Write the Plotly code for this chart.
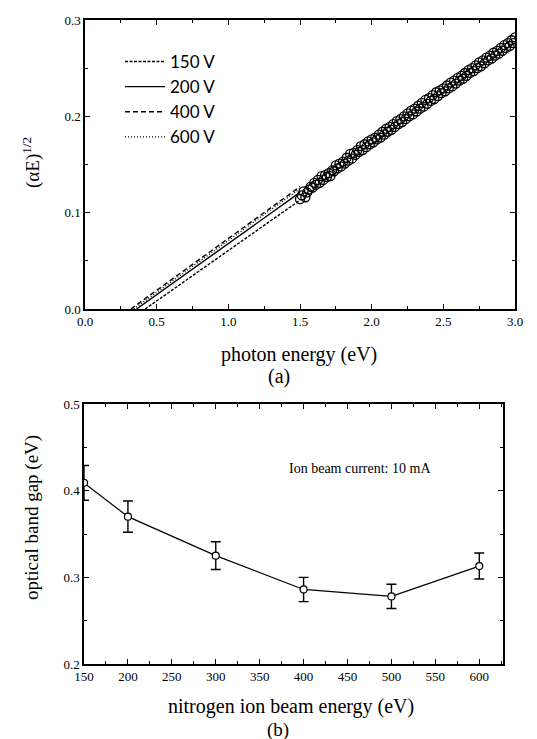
import plotly.graph_objects as go

# ---------- panel (a) data ----------
fit_labels = ["150 V", "200 V", "400 V", "600 V"]
fit_x_start = [0.42, 0.36, 0.32, 0.34]   # x-intercepts (eV)
fit_x_end = [1.50, 1.50, 1.50, 1.50]
fit_y_end = [0.113, 0.121, 0.127, 0.125]
fit_dash = ["3px,1.5px", "solid", "5px,3px", "1px,2px"]

data_a_x = [1.500, 1.525, 1.550, 1.575, 1.600, 1.625, 1.650, 1.675, 1.700, 1.725,
            1.750, 1.775, 1.800, 1.825, 1.850, 1.875, 1.900, 1.925, 1.950, 1.975,
            2.000, 2.025, 2.050, 2.075, 2.100, 2.125, 2.150, 2.175, 2.200, 2.225,
            2.250, 2.275, 2.300, 2.325, 2.350, 2.375, 2.400, 2.425, 2.450, 2.475,
            2.500, 2.525, 2.550, 2.575, 2.600, 2.625, 2.650, 2.675, 2.700, 2.725,
            2.750, 2.775, 2.800, 2.825, 2.850, 2.875, 2.900, 2.925, 2.950, 2.975, 3.000]
data_a_y = [0.114, 0.122, 0.121, 0.127, 0.131, 0.134, 0.138, 0.139, 0.141, 0.144,
            0.149, 0.151, 0.153, 0.157, 0.161, 0.162, 0.165, 0.169, 0.171, 0.174,
            0.176, 0.178, 0.181, 0.184, 0.187, 0.189, 0.192, 0.195, 0.197, 0.200,
            0.203, 0.206, 0.208, 0.211, 0.214, 0.217, 0.219, 0.222, 0.225, 0.227,
            0.229, 0.232, 0.235, 0.237, 0.240, 0.242, 0.245, 0.248, 0.250, 0.253,
            0.256, 0.258, 0.261, 0.263, 0.266, 0.268, 0.271, 0.274, 0.276, 0.279, 0.282]

data_b_x = [1.5125, 1.5375, 1.5625, 1.5875, 1.6125, 1.6375, 1.6625, 1.6875, 1.7125, 1.7375,
            1.7625, 1.7875, 1.8125, 1.8375, 1.8625, 1.8875, 1.9125, 1.9375, 1.9625, 1.9875,
            2.0125, 2.0375, 2.0625, 2.0875, 2.1125, 2.1375, 2.1625, 2.1875, 2.2125, 2.2375,
            2.2625, 2.2875, 2.3125, 2.3375, 2.3625, 2.3875, 2.4125, 2.4375, 2.4625, 2.4875,
            2.5125, 2.5375, 2.5625, 2.5875, 2.6125, 2.6375, 2.6625, 2.6875, 2.7125, 2.7375,
            2.7625, 2.7875, 2.8125, 2.8375, 2.8625, 2.8875, 2.9125, 2.9375, 2.9625, 2.9875]
data_b_y = [0.118, 0.116, 0.124, 0.126, 0.129, 0.131, 0.134, 0.137, 0.138, 0.143,
            0.146, 0.148, 0.151, 0.154, 0.156, 0.160, 0.163, 0.165, 0.168, 0.171,
            0.173, 0.176, 0.178, 0.181, 0.184, 0.186, 0.189, 0.192, 0.194, 0.197,
            0.200, 0.202, 0.205, 0.208, 0.210, 0.213, 0.216, 0.218, 0.221, 0.224,
            0.226, 0.229, 0.231, 0.234, 0.237, 0.239, 0.242, 0.245, 0.247, 0.250,
            0.252, 0.255, 0.258, 0.260, 0.263, 0.265, 0.268, 0.271, 0.273, 0.276]

# ---------- panel (b) data ----------
beam_energy = [150, 200, 300, 400, 500, 600]
band_gap = [0.409, 0.370, 0.325, 0.286, 0.278, 0.313]
band_gap_err = [0.020, 0.018, 0.016, 0.014, 0.014, 0.015]

W, H = 537, 739
SERIF = "Liberation Serif"
SANS = "Lato"

fig = go.Figure()

for i, lab in enumerate(fit_labels):
    fig.add_trace(go.Scatter(
        x=[fit_x_start[i], fit_x_end[i]], y=[0, fit_y_end[i]],
        mode="lines", name=lab,
        line=dict(color="black", width=1.4, dash=fit_dash[i]),
        xaxis="x", yaxis="y"))

for xs, ys in [(data_a_x, data_a_y), (data_b_x, data_b_y)]:
    fig.add_trace(go.Scatter(
        x=xs, y=ys, mode="markers", showlegend=False,
        marker=dict(symbol="circle-open", size=9, color="black", line=dict(width=1.3)),
        xaxis="x", yaxis="y"))

fig.add_trace(go.Scatter(
    x=beam_energy, y=band_gap, mode="lines+markers", showlegend=False,
    line=dict(color="black", width=1.2),
    marker=dict(symbol="circle", size=7, color="white", line=dict(color="black", width=1.2)),
    error_y=dict(type="data", array=band_gap_err, color="black", thickness=1.4, width=5),
    xaxis="x2", yaxis="y2"))

axis_common = dict(
    showline=True, linecolor="black", linewidth=1.5, mirror="ticks",
    ticks="inside", ticklen=5, tickwidth=1.2, tickcolor="black",
    showgrid=False, zeroline=False, automargin=False,
    tickfont=dict(family=SERIF, size=13, color="black"),
)

fig.update_layout(
    width=W, height=H,
    margin=dict(l=0, r=0, t=0, b=0),
    paper_bgcolor="white", plot_bgcolor="white",
    xaxis=dict(domain=[77 / W, 507 / W], range=[0, 3.0], dtick=0.5, tickformat=".1f",
               minor=dict(ticks="inside", dtick=0.25, ticklen=3, tickcolor="black"),
               anchor="y", **axis_common),
    yaxis=dict(domain=[1 - 301 / H, 1 - 12 / H], range=[0, 0.3], dtick=0.1, tickformat=".1f",
               minor=dict(ticks="inside", dtick=0.05, ticklen=3, tickcolor="black"),
               anchor="x", **axis_common),
    xaxis2=dict(domain=[76 / W, 495 / W], range=[150, 627], tickvals=[150, 200, 250, 300, 350, 400, 450, 500, 550, 600],
                minor=dict(ticks="inside", dtick=25, ticklen=3, tickcolor="black"),
                anchor="y2", **axis_common),
    yaxis2=dict(domain=[1 - 656 / H, 1 - 396 / H], range=[0.2, 0.5], dtick=0.1, tickformat=".1f",
                minor=dict(ticks="inside", dtick=0.05, ticklen=3, tickcolor="black"),
                anchor="x2", **axis_common),
    legend=dict(x=112 / W, y=1 - 36 / H, xanchor="left", yanchor="top",
                bgcolor="rgba(0,0,0,0)", font=dict(family=SANS, size=17, color="black"),
                tracegroupgap=0, itemwidth=40),
    showlegend=True,
)

def ann(text, x, y, size, rot=0, family=SERIF):
    fig.add_annotation(text=text, x=x / W, y=1 - y / H, xref="paper", yref="paper",
                       showarrow=False, textangle=rot, xanchor="center", yanchor="middle",
                       font=dict(family=family, size=size, color="black"))

ann("photon energy (eV)", 291, 347, 20)
ann("(a)", 271, 368, 20)
ann("(αE)<sup>1/2</sup>", 24, 155, 19, rot=-90)
ann("nitrogen ion beam energy (eV)", 283, 698, 20)
ann("(b)", 270, 722, 19)
ann("optical band gap (eV)", 24, 510, 19, rot=-90)
ann("Ion beam current: 10 mA", 352, 460, 14)

fig.write_html("out.html")
